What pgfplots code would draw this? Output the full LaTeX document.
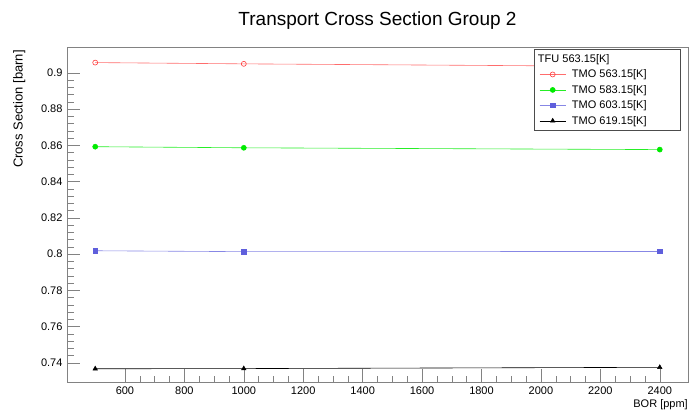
\documentclass[border=0pt]{standalone}
\usepackage{pgfplots}
\pgfplotsset{compat=1.18}
\usepackage{fontspec}
\setmainfont{Liberation Sans}
\definecolor{rred}{RGB}{255,60,60}
\definecolor{rgreen}{RGB}{0,235,0}
\definecolor{rblue}{RGB}{95,95,220}
\definecolor{frame}{RGB}{130,130,130}
\begin{document}
\begin{tikzpicture}
\path[use as bounding box] (0pt,0pt) rectangle (692pt,412pt);
\begin{axis}[
  at={(67pt,30pt)}, anchor=south west,
  scale only axis, width=621pt, height=335pt,
  xmin=405, xmax=2495, ymin=0.7295, ymax=0.9143,
  xtick={600,800,...,2400},
  minor x tick num=3,
  ytick={0.74,0.76,...,0.9},
  minor y tick num=4,
  tick align=inside,
  major tick length=13pt, minor tick length=6.5pt,
  xtick pos=bottom, ytick pos=left,
  axis line style={frame, line width=0.6pt},
  every tick/.style={frame, line width=0.5pt},
  tick label style={font=\fontsize{11}{13}\selectfont},
  /pgf/number format/assume math mode=true,
  yticklabel style={/pgf/number format/fixed, /pgf/number format/precision=2, xshift=-1pt},
  xticklabel style={/pgf/number format/1000 sep={}, yshift=-1pt},
  scaled y ticks=false,
  xlabel={BOR [ppm]},
  xlabel style={at={(axis description cs:1,0)}, anchor=north east, yshift=-17pt, font=\fontsize{11}{13}\selectfont, inner sep=0pt},
  ylabel={Cross Section [barn]},
  ylabel style={at={(axis description cs:-0.087,0.991)}, anchor=north east, font=\fontsize{13}{15}\selectfont, inner sep=0pt},
  title={Transport Cross Section Group 2},
  title style={at={(axis description cs:0.5,1)}, anchor=south, yshift=11pt, font=\fontsize{19}{22}\selectfont, inner sep=0pt},
  legend style={at={(rel axis cs:0.9875,0.994)}, anchor=north east, draw=black!70, line width=0.5pt, font=\fontsize{11}{13}\selectfont, fill=white, inner xsep=5pt, inner ysep=3pt, row sep=2pt, legend cell align=left, nodes={inner sep=2pt}},
  legend image code/.code={\draw[#1] (0pt,0pt) -- (26pt,0pt); \draw[#1, mark repeat=1] plot coordinates {(13pt,0pt)};},
]
\addlegendimage{empty legend}
\addlegendentry{\makebox[105pt][l]{\hspace{-30pt}TFU 563.15[K]}}
\addplot[color=rred!75, line width=0.6pt, mark=o, mark size=2.5pt, mark options={draw=rred, line width=0.6pt}] coordinates {(500,0.9057) (1000,0.9050) (2400,0.9035)};
\addlegendentry{\makebox[105pt][l]{\hspace{4pt}TMO 563.15[K]}}
\addplot[color=rgreen!85, line width=0.6pt, mark=*, mark size=2.5pt, mark options={draw=rgreen, fill=rgreen}] coordinates {(500,0.8593) (1000,0.8587) (2400,0.8577)};
\addlegendentry{\makebox[105pt][l]{\hspace{4pt}TMO 583.15[K]}}
\addplot[color=rblue!75, line width=0.6pt, mark=square*, mark size=2.3pt, mark options={draw=rblue, fill=rblue}] coordinates {(500,0.8019) (1000,0.8014) (2400,0.8015)};
\addlegendentry{\makebox[105pt][l]{\hspace{4pt}TMO 603.15[K]}}
\addplot[color=black, line width=0.6pt, mark=triangle*, mark size=2.5pt, mark options={draw=black, fill=black}] coordinates {(500,0.7368) (1000,0.7369) (2400,0.7376)};
\addlegendentry{\makebox[105pt][l]{\hspace{4pt}TMO 619.15[K]}}
\end{axis}
\end{tikzpicture}
\end{document}
